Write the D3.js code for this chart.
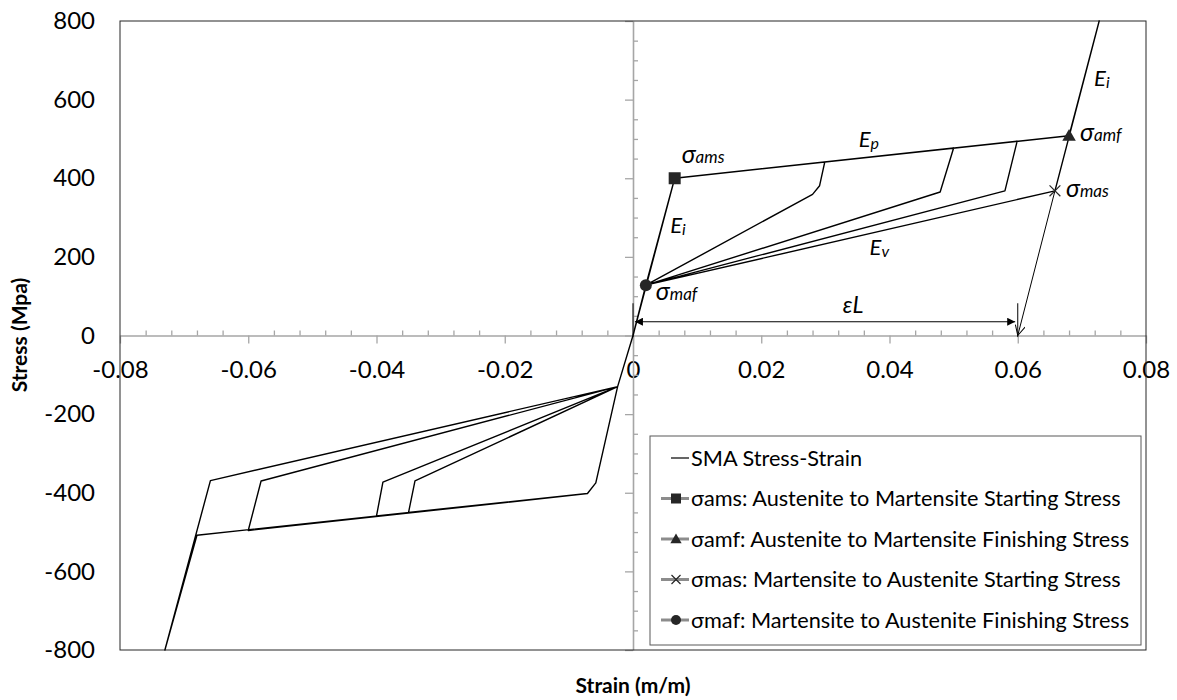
<!DOCTYPE html>
<html>
<head>
<meta charset="utf-8">
<script src="https://cdn.jsdelivr.net/npm/d3@7"></script>
<style>
  body { margin: 0; background: #fff; }
  svg { font-family: Lato, "Open Sans", sans-serif; }
</style>
</head>
<body>
<div class="chart-container"></div>
<script>
// SMA stress-strain path, in the order it is traced (strain m/m, stress MPa)
var curveStrain = [0, 0.0065, 0.0299, 0.0291, 0.0280, 0.0020,
                   0.0065, 0.0500, 0.0479, 0.0020,
                   0.0065, 0.0599, 0.0580, 0.0020,
                   0.0065, 0.0680, 0.0727, 0.0658, 0.0020, 0,
                   -0.0024, -0.0058, -0.0071, -0.0350, -0.0340, -0.0024,
                   -0.0058, -0.0071, -0.0400, -0.0390, -0.0024,
                   -0.0058, -0.0071, -0.0600, -0.0580, -0.0024,
                   -0.0058, -0.0071, -0.0680, -0.0730, -0.0659, -0.0024, 0];
var curveStress = [0, 400, 441, 381, 359, 128,
                   400, 477, 365, 128,
                   400, 494, 368, 128,
                   400, 508, 800, 368, 128, 0,
                   -130, -375, -402, -450, -370, -130,
                   -375, -402, -459, -373, -130,
                   -375, -402, -496, -370, -130,
                   -375, -402, -508, -800, -369, -130, 0];

// transformation stress markers
var markerKeys = ["ams", "amf", "mas", "maf"];
var markerStrain = [0.0065, 0.0680, 0.0658, 0.0020];
var markerStress = [400, 508, 368, 128];
var markerShapes = ["square", "triangle", "cross", "circle"];

var legendLabels = ["SMA Stress-Strain",
                    "σams: Austenite to Martensite Starting Stress",
                    "σamf: Austenite to Martensite Finishing Stress",
                    "σmas: Martensite to Austenite Starting Stress",
                    "σmaf: Martensite to Austenite Finishing Stress"];

// modulus labels (E + subscript) placed at data coordinates
var modLabelSub = ["p", "i", "v", "i"];
var modLabelStrain = [0.0352, 0.0058, 0.0369, 0.0719];
var modLabelStress = [480, 262, 206, 634];

// εL annotation
var epsArrowStress = 35;
var epsArrowFrom = 0.0003, epsArrowTo = 0.0596;
var epsMarkHeight = 82;
var epsLabelStrain = 0.0327, epsLabelStress = 56;

var xMajor = [-0.08, -0.06, -0.04, -0.02, 0, 0.02, 0.04, 0.06, 0.08];
var yMajor = [-800, -600, -400, -200, 0, 200, 400, 600, 800];

var margin = {top: 21, right: 31, bottom: 50, left: 120},
    width = 1177 - margin.left - margin.right,
    height = 650 - margin.top;

var x = d3.scaleLinear().domain([-0.08, 0.08]).range([0, width]),
    y = d3.scaleLinear().domain([-800, 800]).range([height, 0]);

var xMinor = d3.range(-80, 81, 4).map(function(v) { return v / 1000; })
      .filter(function(v) { return Math.abs(Math.round(v * 1000) % 20) !== 0; }),
    yMinor = d3.range(-800, 801, 50).filter(function(v) { return v % 200 !== 0; });

// plain hyphen for negatives, like the spreadsheet
function xFmt(d) { return d === 0 ? "0" : d3.format(".2f")(d).replace("\u2212", "-"); }
function yFmt(d) { return String(d); }

var svg = d3.select(".chart-container").append("svg")
    .attr("width", 1177)
    .attr("height", 700);

var focus = svg.append("g")
    .attr("transform", "translate(" + margin.left + "," + margin.top + ")");

var axisColor = "#a6a6a6";

// minor ticks (inside) and major ticks (outside) on the zero lines
var xMinorG = focus.append("g")
    .attr("transform", "translate(0," + y(0) + ")")
    .call(d3.axisTop(x).tickValues(xMinor).tickSize(5).tickSizeOuter(0).tickFormat(""));
var xMajorG = focus.append("g")
    .attr("transform", "translate(0," + y(0) + ")")
    .call(d3.axisBottom(x).tickValues(xMajor).tickSize(8).tickSizeOuter(0)
      .tickPadding(17).tickFormat(xFmt));
var yMinorG = focus.append("g")
    .attr("transform", "translate(" + x(0) + ",0)")
    .call(d3.axisRight(y).tickValues(yMinor).tickSize(5).tickSizeOuter(0).tickFormat(""));
var yMajorG = focus.append("g")
    .attr("transform", "translate(" + x(0) + ",0)")
    .call(d3.axisLeft(y).tickValues(yMajor).tickSize(8).tickSizeOuter(0).tickFormat(""));
var yLabelG = focus.append("g")
    .call(d3.axisLeft(y).tickValues(yMajor).tickSize(0).tickPadding(25).tickFormat(yFmt));

[xMinorG, xMajorG, yMinorG, yMajorG].forEach(function(g) {
  g.selectAll("line").attr("stroke", axisColor).attr("stroke-width", 1.3);
  g.select(".domain").attr("stroke", axisColor).attr("stroke-width", 1.6);
});
xMinorG.select(".domain").remove();
yMinorG.select(".domain").remove();
yLabelG.select(".domain").remove();
xMajorG.selectAll("text").attr("font-size", 24).attr("font-family", "Lato").attr("fill", "#000");
yLabelG.selectAll("text").attr("font-size", 24).attr("font-family", "Lato").attr("fill", "#000");

// plot frame
focus.append("rect")
    .attr("width", width).attr("height", height)
    .attr("fill", "none").attr("stroke", "#262626").attr("stroke-width", 1);

// main curve
var curve = curveStrain.map(function(s, i) { return [s, curveStress[i]]; });
var line = d3.line()
    .x(function(d) { return x(d[0]); })
    .y(function(d) { return y(d[1]); });

focus.append("path")
    .datum(curve)
    .attr("d", line)
    .attr("fill", "none")
    .attr("stroke", "#000")
    .attr("stroke-width", 1.4)
    .attr("stroke-linejoin", "round");

// εL annotation
var defs = svg.append("defs");
defs.append("marker").attr("id", "head")
    .attr("viewBox", "0 0 10 10").attr("refX", 10).attr("refY", 5)
    .attr("markerWidth", 10).attr("markerHeight", 8).attr("markerUnits", "userSpaceOnUse")
    .attr("orient", "auto-start-reverse")
  .append("path").attr("d", "M0,0L10,5L0,10z").attr("fill", "#000");
defs.append("marker").attr("id", "vhead")
    .attr("viewBox", "0 0 10 10").attr("refX", 10).attr("refY", 5)
    .attr("markerWidth", 12).attr("markerHeight", 10).attr("markerUnits", "userSpaceOnUse")
    .attr("orient", "auto")
  .append("path").attr("d", "M0,0L10,5L0,10").attr("fill", "none").attr("stroke", "#000").attr("stroke-width", 1);

focus.append("line")
    .attr("x1", x(epsArrowFrom)).attr("x2", x(epsArrowTo))
    .attr("y1", y(epsArrowStress)).attr("y2", y(epsArrowStress))
    .attr("stroke", "#000").attr("stroke-width", 1.2)
    .attr("marker-start", "url(#head)").attr("marker-end", "url(#head)");

[0, 0.06].forEach(function(s) {
  focus.append("line")
      .attr("x1", x(s)).attr("x2", x(s))
      .attr("y1", y(-4)).attr("y2", y(epsMarkHeight))
      .attr("stroke", "#000").attr("stroke-width", 1);
});

// unloading arrow from σmas down to zero stress
focus.append("line")
    .attr("x1", x(markerStrain[2])).attr("y1", y(markerStress[2]))
    .attr("x2", x(0.06)).attr("y2", y(0))
    .attr("stroke", "#000").attr("stroke-width", 1)
    .attr("marker-end", "url(#vhead)");

// markers
function drawMarker(g, shape, cx, cy, s) {
  var c = "#262626";
  if (shape === "square") {
    g.append("rect").attr("x", cx - s / 2).attr("y", cy - s / 2)
      .attr("width", s).attr("height", s).attr("fill", c);
  } else if (shape === "triangle") {
    g.append("path").attr("d", d3.symbol(d3.symbolTriangle, s * s * 0.55)())
      .attr("transform", "translate(" + cx + "," + (cy + 1) + ")").attr("fill", c);
  } else if (shape === "circle") {
    g.append("circle").attr("cx", cx).attr("cy", cy).attr("r", s / 2).attr("fill", c);
  } else {
    var h = s * 0.45;
    g.append("path").attr("d", "M" + (cx - h) + "," + (cy - h) + "L" + (cx + h) + "," + (cy + h) +
        "M" + (cx - h) + "," + (cy + h) + "L" + (cx + h) + "," + (cy - h))
      .attr("stroke", c).attr("stroke-width", 1.2);
  }
}

markerKeys.forEach(function(k, i) {
  drawMarker(focus, markerShapes[i], x(markerStrain[i]), y(markerStress[i]), 12);
});

// σ labels next to markers
var sigOffsets = [[7, -15], [11, 5], [11, 6], [10, 15]];
markerKeys.forEach(function(k, i) {
  var t = focus.append("text")
      .attr("x", x(markerStrain[i]) + sigOffsets[i][0])
      .attr("y", y(markerStress[i]) + sigOffsets[i][1])
      .attr("font-style", "italic");
  t.append("tspan").attr("font-size", 25).text("σ");
  t.append("tspan").attr("font-size", 17).text(k);
});

// modulus labels
modLabelSub.forEach(function(sub, i) {
  var t = focus.append("text")
      .attr("x", x(modLabelStrain[i])).attr("y", y(modLabelStress[i]))
      .attr("font-style", "italic");
  t.append("tspan").attr("font-size", 22).text("E");
  t.append("tspan").attr("font-size", 16).attr("dy", 2).text(sub);
});

focus.append("text")
    .attr("x", x(epsLabelStrain)).attr("y", y(epsLabelStress))
    .attr("font-style", "italic").attr("font-size", 23)
    .text("εL");

// legend
var legend = svg.append("g").attr("transform", "translate(650,436)");
legend.append("rect").attr("width", 491).attr("height", 209)
    .attr("fill", "#fff").attr("stroke", "#595959").attr("stroke-width", 1);

legendLabels.forEach(function(lbl, i) {
  var cy = 22 + i * 40.5;
  var row = legend.append("g");
  if (i === 0) {
    row.append("line").attr("x1", 21).attr("x2", 39).attr("y1", cy).attr("y2", cy)
        .attr("stroke", "#000").attr("stroke-width", 1.2);
  } else {
    row.append("line").attr("x1", 11).attr("x2", 39).attr("y1", cy).attr("y2", cy)
        .attr("stroke", "#8c8c8c").attr("stroke-width", 3);
    drawMarker(row, markerShapes[i - 1], 26, cy, 10);
  }
  row.append("text").attr("x", 41).attr("y", cy).attr("dy", "0.35em")
      .attr("font-size", 21.7).text(lbl);
});

// axis titles
svg.append("text")
    .attr("transform", "translate(27,335) rotate(-90)")
    .attr("text-anchor", "middle")
    .attr("font-weight", "bold").attr("font-size", 21)
    .text("Stress (Mpa)");

svg.append("text")
    .attr("x", 633).attr("y", 693)
    .attr("text-anchor", "middle")
    .attr("font-weight", "bold").attr("font-size", 21)
    .text("Strain (m/m)");
</script>
</body>
</html>
